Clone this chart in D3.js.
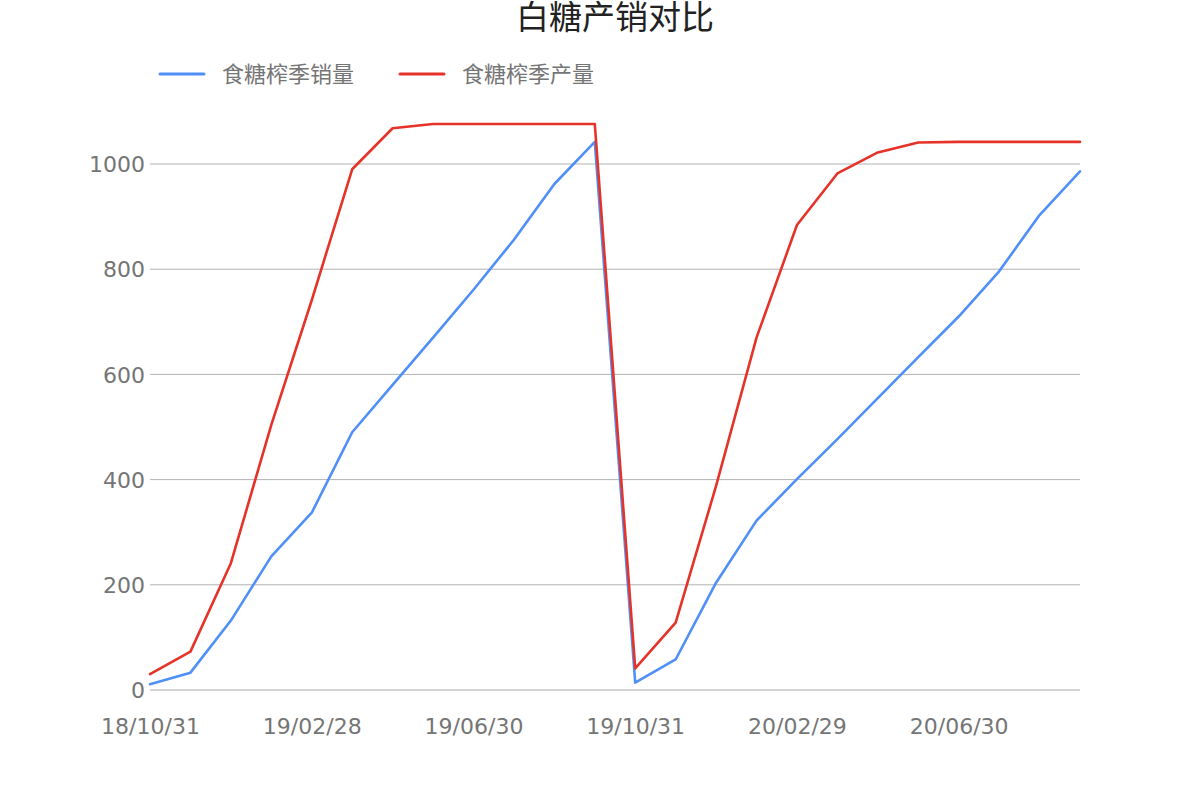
<!DOCTYPE html>
<html><head><meta charset="utf-8">
<script src="https://cdn.jsdelivr.net/npm/d3@7"></script>
<style>
html,body{margin:0;padding:0;background:#fff;}
svg{display:block;}
</style></head>
<body>
<svg id="chart" width="1200" height="800"></svg>
<script>
const title = "白糖产销对比";
const seriesNames = ["食糖榨季销量", "食糖榨季产量"];
const seriesColors = ["#4f8ff7", "#e6332a"];
const dates = ["18/10/31","18/11/30","18/12/31","19/01/31","19/02/28","19/03/31","19/04/30","19/05/31",
  "19/06/30","19/07/31","19/08/31","19/09/30","19/10/31","19/11/30","19/12/31","20/01/31",
  "20/02/29","20/03/31","20/04/30","20/05/31","20/06/30","20/07/31","20/08/31","20/09/30"];
const sales = [11,33,132,254,337,490,580,670,761,856,962,1042,14,58,204,322,401,477,555,633,710,796,903,986];
const production = [30,73,241,504,741,990,1068,1076,1076,1076,1076,1076,41,128,388,670,884,982,1022,1041,1042,1042,1042,1042];
const yTicks = [0,200,400,600,800,1000];
const xTickLabels = ["18/10/31","19/02/28","19/06/30","19/10/31","20/02/29","20/06/30"];

const svg = d3.select("#chart");
const x = d3.scalePoint().domain(dates).range([150,1080]);
const y = d3.scaleLinear().domain([0,1000]).range([690,164]);
const cjk = "'Noto Sans CJK SC','Noto Sans',sans-serif";
const latin = "'DejaVu Sans',sans-serif";

// gridlines
svg.append("g").selectAll("line").data(yTicks).join("line")
  .attr("x1",150).attr("x2",1080)
  .attr("y1",d=>y(d)).attr("y2",d=>y(d))
  .attr("stroke",d=>d===0?"#aaaaaa":"#b3b3b3").attr("stroke-width",1);

// y axis labels
const yAxis = d3.axisLeft(y).tickValues(yTicks).tickFormat(d3.format("d")).tickSize(0).tickPadding(6);
const gy = svg.append("g").attr("transform","translate(150,0)").call(yAxis);
gy.select(".domain").remove();
gy.selectAll("text").attr("font-family",latin).attr("font-size",22).attr("fill","#757575").attr("dy","0.35em").attr("x",-5);

// x axis labels
const xAxis = d3.axisBottom(x).tickValues(xTickLabels).tickSize(0).tickPadding(0);
const gx = svg.append("g").attr("transform","translate(0,690)").call(xAxis);
gx.select(".domain").remove();
gx.selectAll("text").attr("font-family",latin).attr("font-size",22).attr("fill","#757575").attr("y",44).attr("dy",0);

// lines
const line = d3.line().x((d,i)=>x(dates[i])).y(d=>y(d));
[sales, production].forEach((s,i)=>{
  svg.append("path").datum(s).attr("d",line)
    .attr("fill","none").attr("stroke",seriesColors[i]).attr("stroke-width",2.6)
    .attr("stroke-linejoin","round").attr("stroke-linecap","round");
});

// title
svg.append("text").attr("x",615).attr("y",29).attr("text-anchor","middle")
  .attr("font-family",cjk).attr("font-size",33).attr("fill","#222").text(title);

// legend
const legendX = [160, 400];
seriesNames.forEach((n,i)=>{
  const g = svg.append("g").attr("transform",`translate(${legendX[i]},74)`);
  g.append("line").attr("x1",0).attr("x2",44).attr("y1",0).attr("y2",0)
    .attr("stroke",seriesColors[i]).attr("stroke-width",3).attr("stroke-linecap","round");
  g.append("text").attr("x",62).attr("y",0).attr("dy","0.35em")
    .attr("font-family",cjk).attr("font-size",22).attr("fill","#757575").text(n);
});
</script>
</body></html>
